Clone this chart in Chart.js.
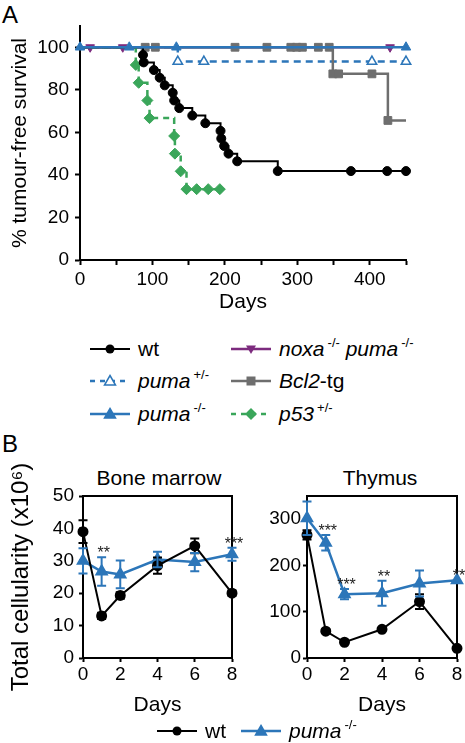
<!DOCTYPE html>
<html>
<head>
<meta charset="utf-8">
<script src="https://cdn.jsdelivr.net/npm/chart.js@4.4.1/dist/chart.umd.min.js"></script>
<style>
  body { margin: 0; background: #fff; font-family: "Liberation Sans", Arial, sans-serif; }
  #page { position: relative; width: 465px; height: 743px; overflow: hidden; }
  canvas { position: absolute; }
  .lbl { position: absolute; font-size: 24px; line-height: 1; }
  .ttl { position: absolute; font-size: 21px; line-height: 1; transform: translateX(-50%); white-space: nowrap; }
  .leg { position: absolute; font-size: 21px; line-height: 22px; white-space: nowrap; display: flex; align-items: center; }
  .leg svg { margin-right: 8px; }
  .leg i { font-style: italic; }
  .leg sup { font-size: 13px; vertical-align: 9px; line-height: 0; margin-left: 3px; }
</style>
</head>
<body>
<div id="page">
  <div class="lbl" style="left:2px;top:3px">A</div>
  <canvas id="survival" width="465" height="320" style="left:0;top:0"></canvas>

  <div id="legendA"></div>

  <div class="lbl" style="left:2px;top:432px">B</div>
  <div class="ttl" style="left:159px;top:467px">Bone marrow</div>
  <div class="ttl" style="left:380px;top:467px">Thymus</div>
  <canvas id="marrow" width="255" height="280" style="left:0;top:440px"></canvas>
  <canvas id="thymus" width="225" height="280" style="left:240px;top:440px"></canvas>
  <div id="legendB"></div>
</div>

<script>
// ---- panel A: tumour-free survival (days, %) ----
const wtDays = [0, 87, 88, 102, 110, 117, 128, 130, 137, 155, 173, 194, 195, 199, 205, 217, 273, 374, 424, 450];
const wtSurv = [100, 96.4, 92.9, 89.3, 85.7, 82.1, 78.6, 75.0, 71.4, 67.9, 64.3, 60.7, 57.1, 53.6, 50.0, 46.4, 41.8, 41.8, 41.8, 41.8];

const pumaHetDays = [0, 135, 171, 403, 450];
const pumaHetSurv = [100, 93.3, 93.3, 93.3, 93.3];

const pumaKoDays = [0, 68, 133, 450];
const pumaKoSurv = [100, 100, 100, 100];

const noxaPumaDays = [0, 14, 59, 428];
const noxaPumaSurv = [100, 100, 100, 100];

const bcl2Days = [0, 90, 104, 214, 258, 291, 299, 307, 329, 344, 349, 357, 403, 425, 450];
const bcl2Surv = [100, 100, 100, 100, 100, 100, 100, 100, 100, 100, 87.5, 87.5, 87.5, 65.6, 65.6];

const p53Days = [0, 77, 81, 93, 96, 130, 131, 139, 147, 161, 177, 193];
const p53Surv = [100, 91.7, 83.3, 75.0, 66.7, 58.3, 50.0, 41.7, 33.3, 33.3, 33.3, 33.3];

const survXTicks = [0, 50, 100, 150, 200, 250, 300, 350, 400, 450];
const survYTicks = [0, 20, 40, 60, 80, 100];

// ---- panel B: total cellularity (x10^6) after treatment ----
const cellDays = [0, 1, 2, 4, 6, 8];

const marrowWt = [39.0, 13.0, 19.3, 28.5, 34.6, 20.0];
const marrowWtErr = [3.5, 1.0, 1.0, 2.5, 2.3, 0.8];
const marrowPuma = [30.0, 26.7, 25.8, 30.4, 29.6, 32.0];
const marrowPumaErr = [3.9, 4.4, 4.3, 2.4, 2.8, 2.0];
const marrowStars = ['', '**', '', '', '', '***'];

const thymusWt = [266, 58, 34, 62, 122, 21];
const thymusWtErr = [10, 4, 3, 3, 16, 3];
const thymusPuma = [302, 249, 138, 140, 161, 168];
const thymusPumaErr = [36, 17, 11, 27, 28, 0];
const thymusStars = ['', '***', '***', '**', '', '**'];

const BLUE = '#2c76b9';
const GREEN = '#3aa65a';
const PURPLE = '#7c2b7e';
const GRAY = '#6e6e6e';
const FONT = '"Liberation Sans", Arial, sans-serif';

Chart.defaults.font.family = FONT;
Chart.defaults.color = '#000';

function pts(xs, ys) {
    return xs.map((x, i) => ({ x: x, y: ys[i] }));
}

// radius per point, optionally hiding first / last marker
function radii(n, r, hideFirst, hideLast) {
    return Array.from({ length: n }, (_, i) =>
        (hideFirst && i === 0) || (hideLast && i === n - 1) ? 0 : r);
}

function kmSet(xs, ys, color, style, r, extra) {
    return Object.assign({
        data: pts(xs, ys),
        borderColor: color,
        backgroundColor: color,
        pointBackgroundColor: color,
        pointBorderColor: color,
        borderWidth: 2.5,
        pointStyle: style,
        pointRadius: radii(xs.length, r, true, false),
        pointBorderWidth: 1,
        stepped: 'before',
        clip: false
    }, extra);
}

new Chart(document.getElementById('survival'), {
    type: 'line',
    data: {
        datasets: [
            kmSet(wtDays, wtSurv, '#000', 'circle', 4.5, { borderWidth: 2, order: 2 }),
            kmSet(p53Days, p53Surv, GREEN, 'rectRot', 5.5, { borderDash: [6, 5], order: 3 }),
            kmSet(bcl2Days, bcl2Surv, GRAY, 'rect', 5.5,
                  { order: 4, pointRadius: radii(bcl2Days.length, 5.5, true, true) }),
            kmSet(noxaPumaDays, noxaPumaSurv, PURPLE, 'triangle', 5, { pointRotation: 180, order: 5 }),
            kmSet(pumaHetDays, pumaHetSurv, BLUE, 'triangle', 5.5,
                  { borderDash: [7, 5], pointBackgroundColor: '#fff', pointBorderWidth: 1.5, order: 6 }),
            kmSet(pumaKoDays, pumaKoSurv, BLUE, 'triangle', 5.5,
                  { order: 1, pointRadius: radii(pumaKoDays.length, 5.5, false, false) })
        ]
    },
    options: {
        responsive: false,
        animation: false,
        events: [],
        layout: { padding: { top: 26, right: 59, left: 0, bottom: 0 } },
        plugins: { legend: { display: false }, tooltip: { enabled: false } },
        scales: {
            x: {
                type: 'linear', min: 0, max: 450,
                afterFit: s => { s.height = 60; },
                afterBuildTicks: s => { s.ticks = survXTicks.map(v => ({ value: v })); },
                border: { color: '#000', width: 2 },
                grid: { drawOnChartArea: false, drawTicks: true, tickLength: 5, tickWidth: 2, tickColor: '#000' },
                ticks: { autoSkip: false, maxRotation: 0, padding: 3, font: { size: 19 },
                         callback: v => (v % 100 === 0 ? v : '') },
                title: { display: true, text: 'Days', font: { size: 21 }, padding: { top: 0, bottom: 5 } }
            },
            y: {
                min: 0, max: 110,
                afterFit: s => { s.width = 80; },
                afterBuildTicks: s => { s.ticks = survYTicks.map(v => ({ value: v })); },
                border: { color: '#000', width: 2 },
                grid: { drawOnChartArea: false, drawTicks: true, tickLength: 5, tickWidth: 2, tickColor: '#000' },
                ticks: { padding: 6, font: { size: 19 } },
                title: { display: true, text: '% tumour-free survival', font: { size: 21 }, padding: { top: 8, bottom: 0 } }
            }
        }
    }
});

// ---- panel B charts ----
function boxPlugin() {
    return {
        id: 'box',
        beforeDatasetsDraw(chart) {
            const { ctx, chartArea: a } = chart;
            ctx.save();
            ctx.strokeStyle = '#000';
            ctx.lineWidth = 2;
            ctx.strokeRect(a.left, a.top, a.right - a.left, a.bottom - a.top);
            ctx.restore();
        }
    };
}

function errorPlugin(errs, stars) {
    return {
        id: 'errs',
        afterDatasetsDraw(chart) {
            const { ctx, scales: { x, y } } = chart;
            errs.forEach((list, di) => {
                const ds = chart.data.datasets[di];
                ctx.save();
                ctx.strokeStyle = ds.borderColor;
                ctx.lineWidth = 2;
                ds.data.forEach((p, i) => {
                    const e = list[i];
                    if (!e) return;
                    const px = x.getPixelForValue(p.x);
                    const t = y.getPixelForValue(p.y + e);
                    const b = y.getPixelForValue(p.y - e);
                    ctx.beginPath();
                    ctx.moveTo(px, t); ctx.lineTo(px, b);
                    ctx.moveTo(px - 4.5, t); ctx.lineTo(px + 4.5, t);
                    ctx.moveTo(px - 4.5, b); ctx.lineTo(px + 4.5, b);
                    ctx.stroke();
                });
                ctx.restore();
            });
            // significance marks above the puma series
            const pu = chart.data.datasets[1].data;
            ctx.save();
            ctx.fillStyle = '#222';
            ctx.font = '16px ' + FONT;
            ctx.textAlign = 'center';
            ctx.textBaseline = 'alphabetic';
            stars.forEach((s, i) => {
                if (!s) return;
                const top = Math.max(pu[i].y + errs[1][i], chart.data.datasets[0].data[i].y + errs[0][i]);
                ctx.fillText(s, x.getPixelForValue(pu[i].x) + 2, y.getPixelForValue(top) + 1);
            });
            ctx.restore();
        }
    };
}

function cellChart(id, wt, wtErr, puma, pumaErr, stars, yMax, yStep, labelStep, yWidth, padRight, yTitle, tickPad) {
    const yTicks = [];
    for (let v = 0; v <= yMax; v += yStep) yTicks.push(v);
    return new Chart(document.getElementById(id), {
        type: 'line',
        data: {
            datasets: [
                { data: pts(cellDays, wt), borderColor: '#000', backgroundColor: '#000',
                  borderWidth: 2, pointStyle: 'circle', pointRadius: 4.5, clip: false },
                { data: pts(cellDays, puma), borderColor: BLUE, backgroundColor: BLUE,
                  borderWidth: 2.5, pointStyle: 'triangle', pointRadius: 5.5, clip: false }
            ]
        },
        options: {
            responsive: false,
            animation: false,
            events: [],
            layout: { padding: { top: 56, right: padRight, left: 0, bottom: 0 } },
            plugins: { legend: { display: false }, tooltip: { enabled: false } },
            scales: {
                x: {
                    type: 'linear', min: 0, max: 8,
                    afterFit: s => { s.height = 62; },
                    border: { color: '#000', width: 2 },
                    grid: { drawOnChartArea: false, drawTicks: true, tickLength: 4, tickWidth: 2, tickColor: '#000' },
                    ticks: { stepSize: 2, maxRotation: 0, padding: 1, font: { size: 19 } },
                    title: { display: true, text: 'Days', font: { size: 21 }, padding: { top: 0, bottom: 2 } }
                },
                y: {
                    min: 0, max: yMax,
                    afterFit: s => { s.width = yWidth; },
                    afterBuildTicks: s => { s.ticks = yTicks.map(v => ({ value: v })); },
                    border: { color: '#000', width: 2 },
                    grid: { drawOnChartArea: false, drawTicks: true, tickLength: 4, tickWidth: 2, tickColor: '#000' },
                    ticks: { padding: tickPad, font: { size: 19 },
                             callback: v => (v % labelStep === 0 ? v : '') },
                    title: { display: !!yTitle, text: yTitle, font: { size: 24 }, padding: { top: 7, bottom: 0 } }
                }
            }
        },
        plugins: [boxPlugin(), errorPlugin([wtErr, pumaErr], stars)]
    });
}

cellChart('marrow', marrowWt, marrowWtErr, marrowPuma, marrowPumaErr, marrowStars,
          50, 10, 10, 83, 23, 'Total cellularity (x10\u2076)', 5);
cellChart('thymus', thymusWt, thymusWtErr, thymusPuma, thymusPumaErr, thymusStars,
          350, 50, 100, 67, 8, '', 2);

// ---- legends (line samples with markers) ----
function marker(shape, color, fill) {
    const f = fill === false ? '#fff' : color;
    switch (shape) {
        case 'circle': return `<circle cx="20" cy="8" r="4.5" fill="${f}"/>`;
        case 'tri': return `<polygon points="20,2.5 25.5,12 14.5,12" fill="${f}" stroke="${color}" stroke-width="1.5"/>`;
        case 'triDown': return `<polygon points="20,13 25,4.5 15,4.5" fill="${f}"/>`;
        case 'square': return `<rect x="15.5" y="3.5" width="9" height="9" fill="${f}"/>`;
        case 'diamond': return `<polygon points="20,2 26,8 20,14 14,8" fill="${f}"/>`;
    }
    return '';
}

function sample(shape, color, dash, fill, width) {
    const d = dash ? ` stroke-dasharray="${dash}"` : '';
    return `<svg width="40" height="16" viewBox="0 0 40 16">` +
        `<line x1="0" y1="8" x2="40" y2="8" stroke="${color}" stroke-width="${width || 2.5}"${d}/>` +
        marker(shape, color, fill) + `</svg>`;
}

const legendA = [
    { left: 90, top: 338, html: sample('circle', '#000', null, true, 2) + '<span>wt</span>' },
    { left: 90, top: 370, html: sample('tri', BLUE, '5,5', false) + '<span><i>puma</i><sup>+/-</sup></span>' },
    { left: 90, top: 403, html: sample('tri', BLUE, null, true) + '<span><i>puma</i><sup>-/-</sup></span>' },
    { left: 231, top: 338, html: sample('triDown', PURPLE, null, true) + '<span><i>noxa</i><sup>-/-</sup> <i>puma</i><sup>-/-</sup></span>' },
    { left: 231, top: 370, html: sample('square', GRAY, null, true) + '<span><i>Bcl2</i>-tg</span>' },
    { left: 231, top: 403, html: sample('diamond', GREEN, '5,5', true) + '<span><i>p53</i><sup>+/-</sup></span>' }
];
document.getElementById('legendA').innerHTML = legendA.map(e =>
    `<div class="leg" style="left:${e.left}px;top:${e.top}px">${e.html}</div>`).join('');

const legendB = [
    { left: 157, top: 720, html: sample('circle', '#000', null, true, 2) + '<span>wt</span>' },
    { left: 241, top: 720, html: sample('tri', BLUE, null, true) + '<span><i>puma</i><sup>-/-</sup></span>' }
];
document.getElementById('legendB').innerHTML = legendB.map(e =>
    `<div class="leg" style="left:${e.left}px;top:${e.top}px">${e.html}</div>`).join('');
</script>
</body>
</html>
